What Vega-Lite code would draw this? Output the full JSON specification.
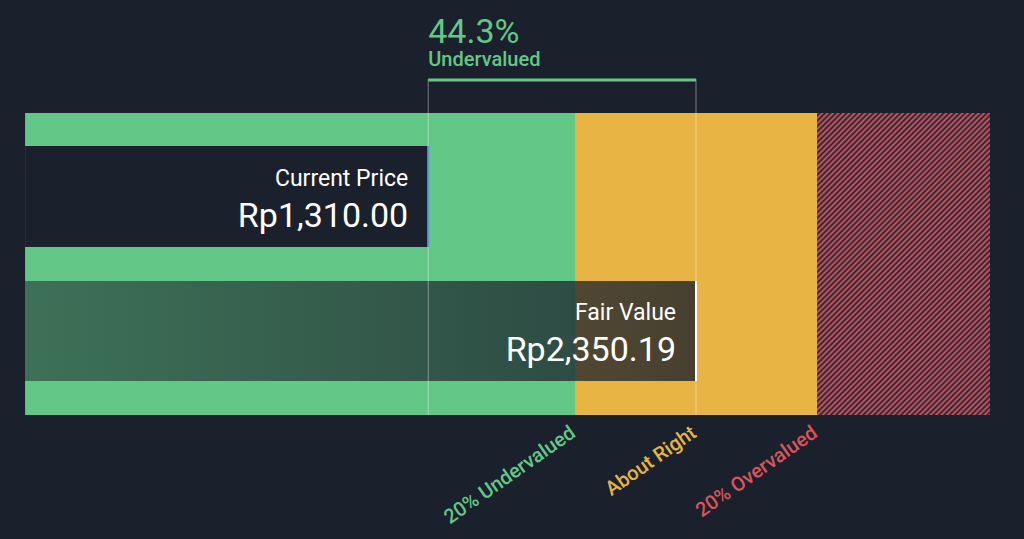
{
  "$schema": "https://vega.github.io/schema/vega-lite/v6.json",
  "width": 1024,
  "height": 539,
  "autosize": {"type": "fit", "contains": "padding"},
  "padding": 0,
  "background": "#1b212c",
  "config": {"view": {"stroke": null}, "text": {"font": "Roboto"}},
  "layer": [
    {
      "data": {"values": [
        {"band": "20% Undervalued", "start": -256, "end": 1880.15, "top": 113, "bottom": 415},
        {"band": "About Right", "start": 1880.15, "end": 2820.23, "top": 113, "bottom": 415}
      ]},
      "mark": {"type": "rect"},
      "encoding": {
        "x": {"field": "start", "type": "quantitative", "scale": {"domain": [-353.5, 3624.3], "nice": false, "zero": false}, "axis": null},
        "x2": {"field": "end"},
        "y": {"field": "top", "type": "quantitative", "scale": {"domain": [0, 539], "reverse": true, "nice": false, "zero": false}, "axis": null},
        "y2": {"field": "bottom"},
        "color": {"field": "band", "type": "nominal", "scale": {"domain": ["20% Undervalued", "About Right"], "range": ["#63c887", "#e8b443"]}, "legend": null}
      }
    },
    {
      "data": {"values": [{"band": "20% Overvalued", "start": 2820.23, "end": 3492, "top": 113, "bottom": 415}]},
      "mark": {"type": "rect", "fill": {"gradient": "linear", "x1": 0, "y1": 0, "x2": 0.6784, "y2": 1.1842, "stops": [
        {"offset":0,"color":"#d65a66"},{"offset":0.0057,"color":"#1b212c"},
        {"offset":0.0114,"color":"#d65a66"},{"offset":0.0170,"color":"#1b212c"},
        {"offset":0.0227,"color":"#d65a66"},{"offset":0.0284,"color":"#1b212c"},
        {"offset":0.0341,"color":"#d65a66"},{"offset":0.0398,"color":"#1b212c"},
        {"offset":0.0455,"color":"#d65a66"},{"offset":0.0511,"color":"#1b212c"},
        {"offset":0.0568,"color":"#d65a66"},{"offset":0.0625,"color":"#1b212c"},
        {"offset":0.0682,"color":"#d65a66"},{"offset":0.0739,"color":"#1b212c"},
        {"offset":0.0795,"color":"#d65a66"},{"offset":0.0852,"color":"#1b212c"},
        {"offset":0.0909,"color":"#d65a66"},{"offset":0.0966,"color":"#1b212c"},
        {"offset":0.1023,"color":"#d65a66"},{"offset":0.1080,"color":"#1b212c"},
        {"offset":0.1136,"color":"#d65a66"},{"offset":0.1193,"color":"#1b212c"},
        {"offset":0.1250,"color":"#d65a66"},{"offset":0.1307,"color":"#1b212c"},
        {"offset":0.1364,"color":"#d65a66"},{"offset":0.1420,"color":"#1b212c"},
        {"offset":0.1477,"color":"#d65a66"},{"offset":0.1534,"color":"#1b212c"},
        {"offset":0.1591,"color":"#d65a66"},{"offset":0.1648,"color":"#1b212c"},
        {"offset":0.1705,"color":"#d65a66"},{"offset":0.1761,"color":"#1b212c"},
        {"offset":0.1818,"color":"#d65a66"},{"offset":0.1875,"color":"#1b212c"},
        {"offset":0.1932,"color":"#d65a66"},{"offset":0.1989,"color":"#1b212c"},
        {"offset":0.2045,"color":"#d65a66"},{"offset":0.2102,"color":"#1b212c"},
        {"offset":0.2159,"color":"#d65a66"},{"offset":0.2216,"color":"#1b212c"},
        {"offset":0.2273,"color":"#d65a66"},{"offset":0.2330,"color":"#1b212c"},
        {"offset":0.2386,"color":"#d65a66"},{"offset":0.2443,"color":"#1b212c"},
        {"offset":0.2500,"color":"#d65a66"},{"offset":0.2557,"color":"#1b212c"},
        {"offset":0.2614,"color":"#d65a66"},{"offset":0.2670,"color":"#1b212c"},
        {"offset":0.2727,"color":"#d65a66"},{"offset":0.2784,"color":"#1b212c"},
        {"offset":0.2841,"color":"#d65a66"},{"offset":0.2898,"color":"#1b212c"},
        {"offset":0.2955,"color":"#d65a66"},{"offset":0.3011,"color":"#1b212c"},
        {"offset":0.3068,"color":"#d65a66"},{"offset":0.3125,"color":"#1b212c"},
        {"offset":0.3182,"color":"#d65a66"},{"offset":0.3239,"color":"#1b212c"},
        {"offset":0.3295,"color":"#d65a66"},{"offset":0.3352,"color":"#1b212c"},
        {"offset":0.3409,"color":"#d65a66"},{"offset":0.3466,"color":"#1b212c"},
        {"offset":0.3523,"color":"#d65a66"},{"offset":0.3580,"color":"#1b212c"},
        {"offset":0.3636,"color":"#d65a66"},{"offset":0.3693,"color":"#1b212c"},
        {"offset":0.3750,"color":"#d65a66"},{"offset":0.3807,"color":"#1b212c"},
        {"offset":0.3864,"color":"#d65a66"},{"offset":0.3920,"color":"#1b212c"},
        {"offset":0.3977,"color":"#d65a66"},{"offset":0.4034,"color":"#1b212c"},
        {"offset":0.4091,"color":"#d65a66"},{"offset":0.4148,"color":"#1b212c"},
        {"offset":0.4205,"color":"#d65a66"},{"offset":0.4261,"color":"#1b212c"},
        {"offset":0.4318,"color":"#d65a66"},{"offset":0.4375,"color":"#1b212c"},
        {"offset":0.4432,"color":"#d65a66"},{"offset":0.4489,"color":"#1b212c"},
        {"offset":0.4545,"color":"#d65a66"},{"offset":0.4602,"color":"#1b212c"},
        {"offset":0.4659,"color":"#d65a66"},{"offset":0.4716,"color":"#1b212c"},
        {"offset":0.4773,"color":"#d65a66"},{"offset":0.4830,"color":"#1b212c"},
        {"offset":0.4886,"color":"#d65a66"},{"offset":0.4943,"color":"#1b212c"},
        {"offset":0.5000,"color":"#d65a66"},{"offset":0.5057,"color":"#1b212c"},
        {"offset":0.5114,"color":"#d65a66"},{"offset":0.5170,"color":"#1b212c"},
        {"offset":0.5227,"color":"#d65a66"},{"offset":0.5284,"color":"#1b212c"},
        {"offset":0.5341,"color":"#d65a66"},{"offset":0.5398,"color":"#1b212c"},
        {"offset":0.5455,"color":"#d65a66"},{"offset":0.5511,"color":"#1b212c"},
        {"offset":0.5568,"color":"#d65a66"},{"offset":0.5625,"color":"#1b212c"},
        {"offset":0.5682,"color":"#d65a66"},{"offset":0.5739,"color":"#1b212c"},
        {"offset":0.5795,"color":"#d65a66"},{"offset":0.5852,"color":"#1b212c"},
        {"offset":0.5909,"color":"#d65a66"},{"offset":0.5966,"color":"#1b212c"},
        {"offset":0.6023,"color":"#d65a66"},{"offset":0.6080,"color":"#1b212c"},
        {"offset":0.6136,"color":"#d65a66"},{"offset":0.6193,"color":"#1b212c"},
        {"offset":0.6250,"color":"#d65a66"},{"offset":0.6307,"color":"#1b212c"},
        {"offset":0.6364,"color":"#d65a66"},{"offset":0.6420,"color":"#1b212c"},
        {"offset":0.6477,"color":"#d65a66"},{"offset":0.6534,"color":"#1b212c"},
        {"offset":0.6591,"color":"#d65a66"},{"offset":0.6648,"color":"#1b212c"},
        {"offset":0.6705,"color":"#d65a66"},{"offset":0.6761,"color":"#1b212c"},
        {"offset":0.6818,"color":"#d65a66"},{"offset":0.6875,"color":"#1b212c"},
        {"offset":0.6932,"color":"#d65a66"},{"offset":0.6989,"color":"#1b212c"},
        {"offset":0.7045,"color":"#d65a66"},{"offset":0.7102,"color":"#1b212c"},
        {"offset":0.7159,"color":"#d65a66"},{"offset":0.7216,"color":"#1b212c"},
        {"offset":0.7273,"color":"#d65a66"},{"offset":0.7330,"color":"#1b212c"},
        {"offset":0.7386,"color":"#d65a66"},{"offset":0.7443,"color":"#1b212c"},
        {"offset":0.7500,"color":"#d65a66"},{"offset":0.7557,"color":"#1b212c"},
        {"offset":0.7614,"color":"#d65a66"},{"offset":0.7670,"color":"#1b212c"},
        {"offset":0.7727,"color":"#d65a66"},{"offset":0.7784,"color":"#1b212c"},
        {"offset":0.7841,"color":"#d65a66"},{"offset":0.7898,"color":"#1b212c"},
        {"offset":0.7955,"color":"#d65a66"},{"offset":0.8011,"color":"#1b212c"},
        {"offset":0.8068,"color":"#d65a66"},{"offset":0.8125,"color":"#1b212c"},
        {"offset":0.8182,"color":"#d65a66"},{"offset":0.8239,"color":"#1b212c"},
        {"offset":0.8295,"color":"#d65a66"},{"offset":0.8352,"color":"#1b212c"},
        {"offset":0.8409,"color":"#d65a66"},{"offset":0.8466,"color":"#1b212c"},
        {"offset":0.8523,"color":"#d65a66"},{"offset":0.8580,"color":"#1b212c"},
        {"offset":0.8636,"color":"#d65a66"},{"offset":0.8693,"color":"#1b212c"},
        {"offset":0.8750,"color":"#d65a66"},{"offset":0.8807,"color":"#1b212c"},
        {"offset":0.8864,"color":"#d65a66"},{"offset":0.8920,"color":"#1b212c"},
        {"offset":0.8977,"color":"#d65a66"},{"offset":0.9034,"color":"#1b212c"},
        {"offset":0.9091,"color":"#d65a66"},{"offset":0.9148,"color":"#1b212c"},
        {"offset":0.9205,"color":"#d65a66"},{"offset":0.9261,"color":"#1b212c"},
        {"offset":0.9318,"color":"#d65a66"},{"offset":0.9375,"color":"#1b212c"},
        {"offset":0.9432,"color":"#d65a66"},{"offset":0.9489,"color":"#1b212c"},
        {"offset":0.9545,"color":"#d65a66"},{"offset":0.9602,"color":"#1b212c"},
        {"offset":0.9659,"color":"#d65a66"},{"offset":0.9716,"color":"#1b212c"},
        {"offset":0.9773,"color":"#d65a66"},{"offset":0.9830,"color":"#1b212c"},
        {"offset":0.9886,"color":"#d65a66"},{"offset":0.9943,"color":"#1b212c"},
        {"offset":1,"color":"#d65a66"}
      ]}},
      "encoding": {
        "x": {"field": "start", "type": "quantitative"},
        "x2": {"field": "end"},
        "y": {"field": "top", "type": "quantitative"},
        "y2": {"field": "bottom"}
      }
    },
    {
      "data": {"values": [{"name": "Current Price", "start": -256, "value": 1310, "top": 146, "bottom": 247}]},
      "mark": {"type": "rect", "fill": "#1b212c"},
      "encoding": {
        "x": {"field": "start", "type": "quantitative"},
        "x2": {"field": "value"},
        "y": {"field": "top", "type": "quantitative"},
        "y2": {"field": "bottom"}
      }
    },
    {
      "data": {"values": [{"name": "Fair Value", "start": -256, "value": 2350.19, "top": 281, "bottom": 381}]},
      "mark": {"type": "rect", "fill": {"gradient": "linear", "x1": 0, "y1": 0, "x2": 1, "y2": 0, "stops": [
        {"offset": 0, "color": "rgba(27,33,44,0.52)"},
        {"offset": 1, "color": "rgba(27,33,44,0.79)"}
      ]}},
      "encoding": {
        "x": {"field": "start", "type": "quantitative"},
        "x2": {"field": "value"},
        "y": {"field": "top", "type": "quantitative"},
        "y2": {"field": "bottom"}
      }
    },
    {
      "data": {"values": [{"value": 1310, "top": 79, "bottom": 415}, {"value": 2350.19, "top": 79, "bottom": 415}]},
      "mark": {"type": "rule", "stroke": "#ffffff", "strokeOpacity": 0.4, "strokeWidth": 1},
      "encoding": {
        "x": {"field": "value", "type": "quantitative"},
        "y": {"field": "top", "type": "quantitative"},
        "y2": {"field": "bottom"}
      }
    },
    {
      "data": {"values": [{"value": 1310, "top": 146, "bottom": 247}]},
      "mark": {"type": "rule", "stroke": "#5b9bd8", "strokeWidth": 2},
      "encoding": {
        "x": {"field": "value", "type": "quantitative"},
        "y": {"field": "top", "type": "quantitative"},
        "y2": {"field": "bottom"}
      }
    },
    {
      "data": {"values": [{"value": 2350.19, "top": 281, "bottom": 381}]},
      "mark": {"type": "rule", "stroke": "#ffffff", "strokeWidth": 2},
      "encoding": {
        "x": {"field": "value", "type": "quantitative"},
        "y": {"field": "top", "type": "quantitative"},
        "y2": {"field": "bottom"}
      }
    },
    {
      "data": {"values": [{"from": 1310, "to": 2350.19, "level": 80}]},
      "mark": {"type": "rule", "stroke": "#63c887", "strokeWidth": 3},
      "encoding": {
        "x": {"field": "from", "type": "quantitative"},
        "x2": {"field": "to"},
        "y": {"field": "level", "type": "quantitative"}
      }
    },
    {
      "data": {"values": [{"text": "44.3%", "value": 1310, "level": 43}]},
      "mark": {"type": "text", "align": "left", "baseline": "alphabetic", "fontSize": 34, "color": "#63c887"},
      "encoding": {
        "x": {"field": "value", "type": "quantitative"},
        "y": {"field": "level", "type": "quantitative"},
        "text": {"field": "text"}
      }
    },
    {
      "data": {"values": [{"text": "Undervalued", "value": 1310, "level": 66}]},
      "mark": {"type": "text", "align": "left", "baseline": "alphabetic", "fontSize": 20, "fontWeight": 500, "color": "#63c887"},
      "encoding": {
        "x": {"field": "value", "type": "quantitative"},
        "y": {"field": "level", "type": "quantitative"},
        "text": {"field": "text"}
      }
    },
    {
      "data": {"values": [
        {"text": "Current Price", "value": 1310, "level": 186},
        {"text": "Fair Value", "value": 2350.19, "level": 320}
      ]},
      "mark": {"type": "text", "align": "right", "baseline": "alphabetic", "fontSize": 23, "dx": -20, "color": "#ffffff"},
      "encoding": {
        "x": {"field": "value", "type": "quantitative"},
        "y": {"field": "level", "type": "quantitative"},
        "text": {"field": "text"}
      }
    },
    {
      "data": {"values": [
        {"text": "Rp1,310.00", "value": 1310, "level": 227},
        {"text": "Rp2,350.19", "value": 2350.19, "level": 361}
      ]},
      "mark": {"type": "text", "align": "right", "baseline": "alphabetic", "fontSize": 34, "dx": -20, "color": "#ffffff"},
      "encoding": {
        "x": {"field": "value", "type": "quantitative"},
        "y": {"field": "level", "type": "quantitative"},
        "text": {"field": "text"}
      }
    },
    {
      "data": {"values": [
        {"label": "20% Undervalued", "value": 1880.15, "level": 437},
        {"label": "About Right", "value": 2350.19, "level": 437},
        {"label": "20% Overvalued", "value": 2820.23, "level": 437}
      ]},
      "mark": {"type": "text", "align": "right", "baseline": "alphabetic", "angle": -35, "fontSize": 20, "fontWeight": 500, "dx": 2},
      "encoding": {
        "x": {"field": "value", "type": "quantitative"},
        "y": {"field": "level", "type": "quantitative"},
        "text": {"field": "label"},
        "color": {"field": "label", "type": "nominal", "scale": {"domain": ["20% Undervalued", "About Right", "20% Overvalued"], "range": ["#63c887", "#e8b443", "#d9545c"]}, "legend": null}
      }
    }
  ],
  "resolve": {"scale": {"color": "independent"}}
}
